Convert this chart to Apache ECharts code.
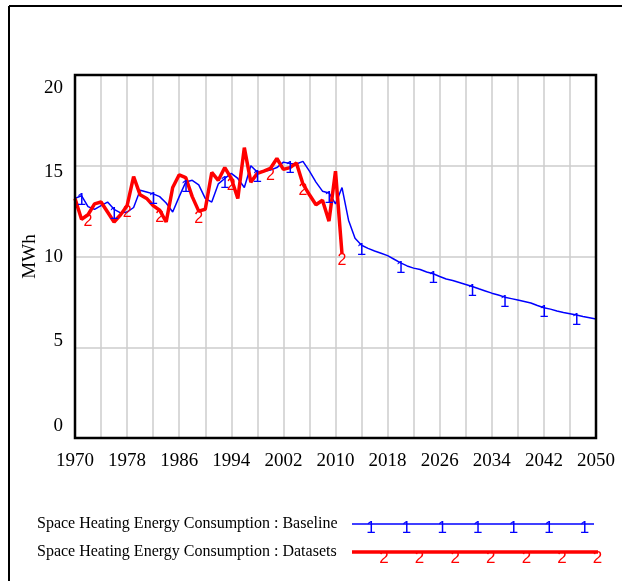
<!DOCTYPE html>
<html>
<head>
<meta charset="utf-8">
<script src="https://cdn.jsdelivr.net/npm/echarts@6/dist/echarts.min.js"></script>
<style>
html, body { margin: 0; padding: 0; background: #fff; }
#chart { width: 622px; height: 581px; }
</style>
</head>
<body>
<div id="chart"></div>
<script>
var startYear = 1970
var endYear = 2050
var yTicks = [0, 5, 10, 15, 20]

// Space Heating Energy Consumption : Baseline (1970..2050)
var baseline = [
  13.2, 13.35, 12.75, 12.6, 12.8, 13.0, 12.6, 12.4, 12.45, 12.7,
  13.65, 13.55, 13.45, 13.3, 12.95, 12.45, 13.3, 14.1, 14.2, 13.95,
  13.2, 13.0, 14.0, 14.3, 14.58, 14.3, 13.8, 15.0, 14.65, 14.7,
  14.76, 14.9, 15.2, 15.13, 15.1, 15.24, 14.7, 14.1, 13.6, 13.5,
  12.9, 13.8, 12.0, 11.0, 10.62, 10.45, 10.3, 10.18, 10.05, 9.85,
  9.65, 9.48, 9.36, 9.28, 9.15, 9.05, 8.9, 8.76, 8.68, 8.57,
  8.46, 8.35, 8.22, 8.1, 7.98, 7.88, 7.76, 7.68, 7.6, 7.52,
  7.44, 7.3, 7.18, 7.1, 7.0, 6.92, 6.85, 6.78, 6.7, 6.63,
  6.56
]
// Space Heating Energy Consumption : Datasets (1970..2011)
var datasets = [
  13.2, 12.05, 12.3, 12.9, 13.0, 12.45, 11.9, 12.3, 12.8, 14.4,
  13.4, 13.2, 12.8, 12.55, 11.9, 13.8, 14.5, 14.35, 13.3, 12.5,
  12.6, 14.63, 14.2, 14.9, 14.3, 13.2, 16.0, 14.1, 14.58, 14.7,
  14.85, 15.4, 14.8, 14.9, 15.15, 14.0, 13.4, 12.85, 13.1, 11.95,
  14.7, 10.15
]
// years where the series number is drawn on the line
var baselineMarks = [1971, 1976, 1982, 1987, 1993, 1998, 2003, 2009, 2014, 2020, 2025, 2031, 2036, 2042, 2047]
var datasetMarks = [1972, 1978, 1983, 1989, 1994, 2000, 2005, 2011]

var legendNames = ['Space Heating Energy Consumption : Baseline', 'Space Heating Energy Consumption : Datasets']

var serif = '"Liberation Serif", "Times New Roman", serif'
var sans = '"Liberation Sans", Arial, sans-serif'

function buildData(vals, marks, mark) {
  return vals.map(function (v, i) {
    var yr = startYear + i
    var item = { value: [yr, v] }
    if (marks.indexOf(yr) >= 0) {
      item.label = { show: true, formatter: mark }
    }
    return item
  })
}

// legend drawn by hand: text, line, and the series numbers along it
var graphics = [
  { type: 'line', shape: { x1: 9, y1: 6, x2: 622, y2: 6 }, style: { stroke: '#000', lineWidth: 2 } },
  { type: 'line', shape: { x1: 9, y1: 6, x2: 9, y2: 581 }, style: { stroke: '#000', lineWidth: 2 } }
]
var legendRows = [
  { y: 524, color: '#0000ff', width: 1.5, mark: '1', x0: 352, x1: 594, first: 371, dy: 4 },
  { y: 552, color: '#ff0000', width: 3.5, mark: '2', x0: 352, x1: 598, first: 384, dy: 6 }
]
legendRows.forEach(function (r, k) {
  graphics.push({
    type: 'text', x: 37, y: r.y,
    style: { text: legendNames[k], font: '16px ' + serif, fill: '#000', verticalAlign: 'middle' }
  })
  graphics.push({
    type: 'line', shape: { x1: r.x0, y1: r.y, x2: r.x1, y2: r.y },
    style: { stroke: r.color, lineWidth: r.width }
  })
  for (var m = 0; m < 7; m++) {
    graphics.push({
      type: 'text', x: r.first + m * 35.6, y: r.y + r.dy,
      style: { text: r.mark, font: '17px ' + sans, fill: r.color, align: 'center', verticalAlign: 'middle' }
    })
  }
})

var option = {
  backgroundColor: '#fff',
  animation: false,
  grid: {
    left: 75, top: 75, right: 26, bottom: 143,
    show: true, borderColor: '#000', borderWidth: 2.5, backgroundColor: 'transparent', z: 3
  },
  xAxis: {
    type: 'value', min: startYear, max: endYear, interval: 4,
    axisLine: { show: false }, axisTick: { show: false },
    splitLine: { show: true, lineStyle: { color: '#cccccc', width: 1.5 } },
    axisLabel: {
      margin: 14, color: '#000', fontSize: 19, fontFamily: serif,
      formatter: function (v) { return (v - startYear) % 8 === 0 ? String(v) : '' }
    }
  },
  yAxis: [{
    type: 'value', min: 0, max: 20, interval: 5,
    axisLine: { show: false }, axisTick: { show: false }, axisLabel: { show: false },
    splitLine: { show: true, lineStyle: { color: '#cccccc', width: 1.5 } }
  }, {
    // label-only axis: the tick numbers sit slightly off the grid lines, as in the original
    type: 'value', position: 'left', min: -0.71, max: 20.77,
    name: 'MWh', nameLocation: 'middle', nameGap: 35, nameRotate: 90, nameMoveOverlap: false,
    nameTextStyle: { color: '#000', fontSize: 19, fontFamily: serif },
    axisLine: { show: false }, axisTick: { show: false }, splitLine: { show: false },
    axisLabel: { customValues: yTicks, margin: 12, color: '#000', fontSize: 19, fontFamily: serif }
  }],
  graphic: graphics,
  series: [{
    name: legendNames[0],
    type: 'line',
    yAxisIndex: 0,
    data: buildData(baseline, baselineMarks, '1'),
    symbol: 'circle', symbolSize: 0.1, showSymbol: true, showAllSymbol: true,
    lineStyle: { color: '#0000ff', width: 1.5 },
    itemStyle: { color: '#0000ff' },
    label: { show: false, position: 'inside', offset: [0, 5], color: '#0000ff', fontSize: 17, fontFamily: sans },
    emphasis: { disabled: true },
    z: 2
  }, {
    name: legendNames[1],
    type: 'line',
    yAxisIndex: 0,
    data: buildData(datasets, datasetMarks, '2'),
    symbol: 'circle', symbolSize: 0.1, showSymbol: true, showAllSymbol: true,
    lineStyle: { color: '#ff0000', width: 3.5 },
    itemStyle: { color: '#ff0000' },
    label: { show: false, position: 'inside', offset: [0, 7], color: '#ff0000', fontSize: 16, fontFamily: sans },
    emphasis: { disabled: true },
    z: 2
  }]
}

var myChart = echarts.init(document.getElementById('chart'))
myChart.setOption(option)
</script>
</body>
</html>
